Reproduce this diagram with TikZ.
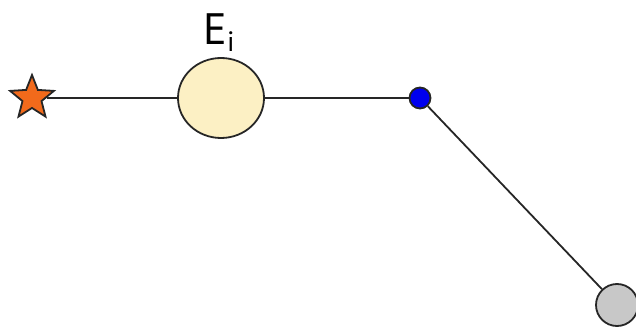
\documentclass[tikz,border=0pt]{standalone}
\usepackage{fontspec}
\setmainfont{PT Sans}
\usetikzlibrary{shapes.geometric}
\definecolor{EStar}{HTML}{F26A1B}
\definecolor{ECream}{HTML}{FCF0C4}
\definecolor{EBlue}{HTML}{0000F0}
\definecolor{EGrey}{HTML}{C8C8C8}
\tikzset{
  link/.style={draw=black!85,line width=1.8pt},
  body/.style={draw=black!85,line width=1.8pt,inner sep=0pt}
}
\begin{document}
\begin{tikzpicture}[x=1pt,y=-1pt]
\path[use as bounding box] (0,0) rectangle (636,328);
\node[body,star,star points=5,star point ratio=2.3,minimum size=46pt,fill=EStar] (src) at (32,98) {};
\node[body,ellipse,minimum width=86pt,minimum height=80pt,fill=ECream] (lens) at (221,98) {};
\node[body,circle,minimum size=21pt,fill=EBlue] (turn) at (420,98) {};
\node[body,circle,minimum size=42pt,fill=EGrey] (obs) at (617,305) {};
\node[anchor=base,inner sep=0pt] (elabel) at (219,45) {\fontsize{44}{44}\selectfont E\raisebox{-7pt}{\fontsize{28}{28}\selectfont i}};
\draw[link] (src) -- (lens);
\draw[link] (lens) -- (turn);
\draw[link] (turn) -- (obs);
\end{tikzpicture}
\end{document}
